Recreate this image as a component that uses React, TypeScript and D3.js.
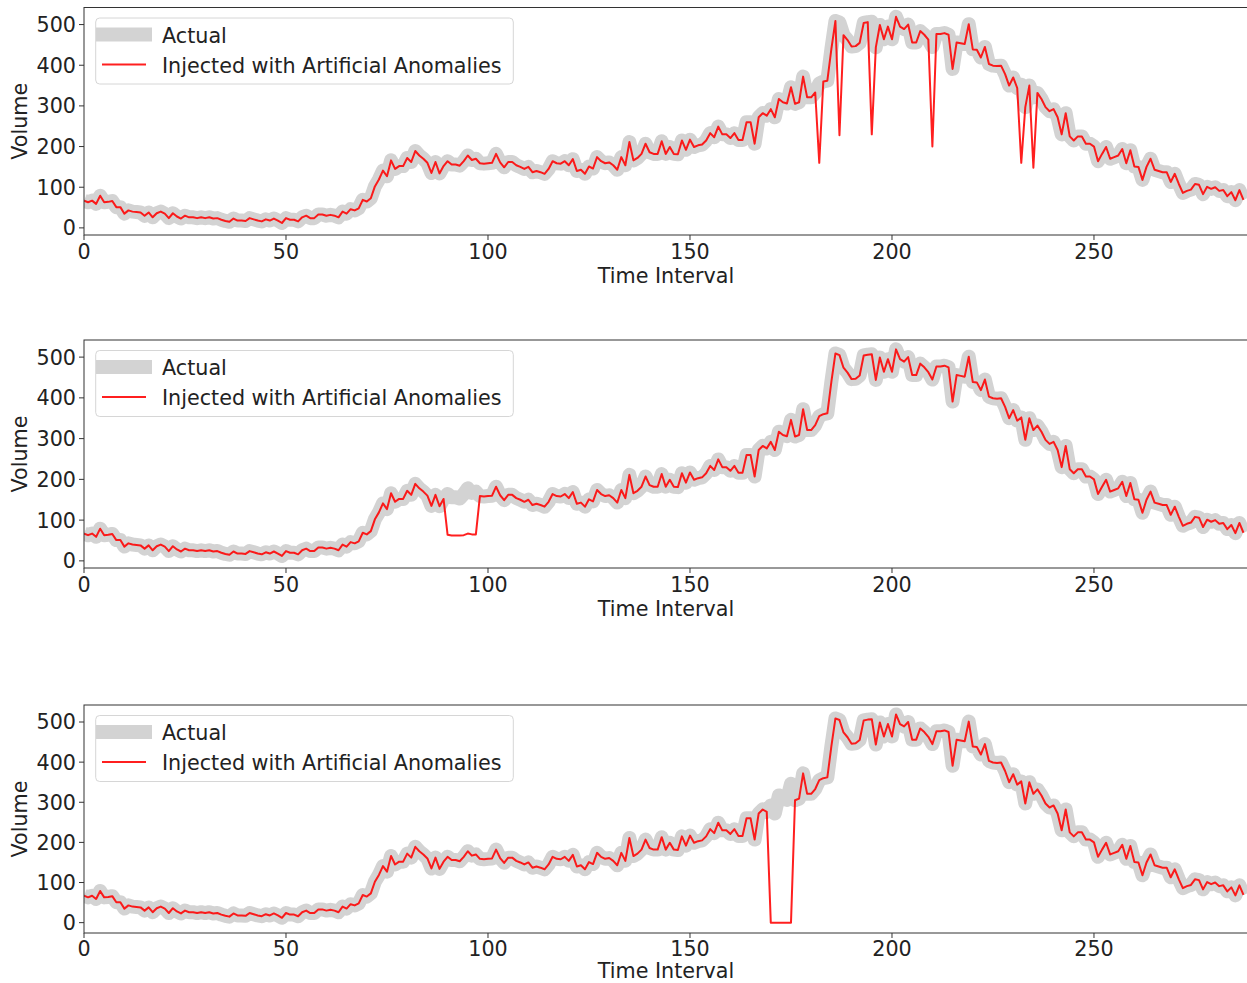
import React from "react";
import * as d3 from "d3";

// Actual traffic volume per 5-minute interval (288 intervals)
const actual: number[] = [
  67, 63, 67, 59, 79, 63, 64, 66, 51, 51, 35, 43, 40, 39, 38, 30, 38, 26, 36, 40,
  35, 24, 36, 28, 23, 30, 26, 26, 24, 26, 24, 26, 23, 24, 20, 17, 15, 23, 18, 18,
  17, 24, 21, 18, 16, 21, 18, 23, 18, 12, 24, 20, 20, 16, 26, 30, 24, 24, 33, 33,
  30, 32, 30, 26, 40, 35, 46, 43, 48, 69, 65, 73, 102, 119, 141, 127, 166, 145, 152, 152,
  172, 162, 189, 178, 170, 160, 135, 162, 134, 152, 164, 156, 156, 153, 164, 178, 167, 170, 159, 158,
  159, 160, 182, 161, 149, 162, 162, 154, 150, 145, 150, 137, 140, 137, 133, 145, 164, 159, 158, 164,
  154, 169, 140, 143, 133, 151, 146, 174, 164, 159, 161, 154, 143, 174, 154, 211, 166, 172, 182, 207,
  186, 182, 182, 213, 182, 199, 182, 181, 215, 192, 217, 199, 203, 205, 215, 233, 223, 249, 230, 230,
  221, 233, 216, 216, 260, 260, 207, 272, 282, 276, 292, 272, 317, 309, 306, 346, 305, 309, 372, 321,
  321, 333, 355, 360, 362, 440, 509, 505, 474, 462, 446, 447, 455, 504, 506, 507, 444, 499, 464, 495,
  464, 519, 495, 489, 500, 456, 456, 484, 475, 463, 445, 477, 477, 479, 475, 391, 456, 454, 452, 501,
  439, 438, 419, 445, 403, 399, 398, 399, 378, 350, 370, 344, 352, 297, 350, 321, 332, 317, 297, 287,
  292, 272, 230, 282, 225, 215, 225, 225, 207, 207, 200, 164, 182, 199, 170, 174, 178, 194, 159, 191,
  151, 150, 118, 150, 170, 143, 140, 137, 137, 113, 133, 108, 86, 91, 94, 108, 106, 83, 101, 96,
  100, 91, 93, 78, 88, 68, 93, 69,
];

// Injected anomalies: [interval, value]
const anomaliesSpikes: [number, number][] = [
  [182, 160], [187, 228], [195, 230], [210, 200], [232, 160], [235, 148],
];
const anomaliesDip: [number, number][] = [
  [90, 64], [91, 62], [92, 62], [93, 62], [94, 63], [95, 67], [96, 65], [97, 65],
];
const anomaliesZero: [number, number][] = [
  [170, 0], [171, 0], [172, 0], [173, 0], [174, 0], [175, 0],
];

const xTicks = [0, 50, 100, 150, 200, 250];
const yTicks = [0, 100, 200, 300, 400, 500];

const legendLabels = ["Actual", "Injected with Artificial Anomalies"];

const inject = (base: number[], anomalies: [number, number][]) => {
  const out = base.slice();
  anomalies.forEach(([i, v]) => (out[i] = v));
  return out;
};

const FONT = "'DejaVu Sans', sans-serif";
const FS = 20.7;

const x = d3.scaleLinear().domain([0, 288]).range([84, 1247.5]);

type PanelProps = {
  id: string;
  top: number;
  bottom: number;
  yDomain: [number, number];
  injected: number[];
  tickOffset: number;
  labelOffset: number;
};

function Panel({ id, top, bottom, yDomain, injected, tickOffset, labelOffset }: PanelProps) {
  const y = d3.scaleLinear().domain(yDomain).range([bottom, top]);
  const line = d3
    .line<number>()
    .x((_, i) => x(i))
    .y((d) => y(d));
  const x0 = x.range()[0];
  const x1 = x.range()[1];
  return (
    <g>
      <defs>
        <clipPath id={id}>
          <rect x={x0} y={top} width={x1 - x0} height={bottom - top} />
        </clipPath>
      </defs>
      <g clipPath={`url(#${id})`}>
        <path
          d={line(actual) || ""}
          fill="none"
          stroke="#d3d3d3"
          strokeWidth={14}
          strokeLinejoin="round"
        />
        <path
          d={line(injected) || ""}
          fill="none"
          stroke="red"
          strokeOpacity={0.88}
          strokeWidth={2}
          strokeLinejoin="round"
        />
      </g>
      {/* spines */}
      <rect
        x={x0}
        y={top}
        width={x1 - x0}
        height={bottom - top}
        fill="none"
        stroke="#333"
        strokeWidth={1}
      />
      {/* x ticks */}
      {xTicks.map((t) => (
        <g key={"x" + t}>
          <line x1={x(t)} x2={x(t)} y1={bottom} y2={bottom + 5} stroke="#333" strokeWidth={1} />
          <text
            x={x(t)}
            y={bottom + tickOffset}
            textAnchor="middle"
            fontFamily={FONT}
            fontSize={FS}
            fill="#222"
          >
            {t}
          </text>
        </g>
      ))}
      {/* y ticks */}
      {yTicks.map((t) => (
        <g key={"y" + t}>
          <line x1={x0 - 5} x2={x0} y1={y(t)} y2={y(t)} stroke="#333" strokeWidth={1} />
          <text
            x={x0 - 8}
            y={y(t)}
            dy="0.36em"
            textAnchor="end"
            fontFamily={FONT}
            fontSize={FS}
            fill="#222"
          >
            {t}
          </text>
        </g>
      ))}
      <text
        x={666}
        y={bottom + labelOffset}
        textAnchor="middle"
        fontFamily={FONT}
        fontSize={FS}
        fill="#222"
      >
        Time Interval
      </text>
      <text
        transform={`translate(27,${(top + bottom) / 2}) rotate(-90)`}
        textAnchor="middle"
        fontFamily={FONT}
        fontSize={FS}
        fill="#222"
      >
        Volume
      </text>
      {/* legend */}
      <rect
        x={95.7}
        y={top + 10.5}
        width={417.6}
        height={66}
        rx={4}
        fill="white"
        fillOpacity={0.8}
        stroke="#d6d6d6"
        strokeWidth={1}
      />
      <line x1={96} x2={152} y1={top + 27} y2={top + 27} stroke="#d3d3d3" strokeWidth={14} />
      <line
        x1={102}
        x2={146}
        y1={top + 57}
        y2={top + 57}
        stroke="red"
        strokeOpacity={0.88}
        strokeWidth={2}
      />
      <text x={162} y={top + 35} fontFamily={FONT} fontSize={FS} fill="#222">
        {legendLabels[0]}
      </text>
      <text x={162} y={top + 65} fontFamily={FONT} fontSize={FS} fill="#222">
        {legendLabels[1]}
      </text>
    </g>
  );
}

export default function App() {
  return (
    <svg
      width={1247}
      height={983}
      style={{ position: "absolute", left: 0, top: 0, background: "white" }}
    >
      <Panel id="c1" top={7.5} bottom={235} yDomain={[-17.5, 542]} injected={inject(actual, anomaliesSpikes)} tickOffset={23.5} labelOffset={47.5} />
      <Panel id="c2" top={340} bottom={568} yDomain={[-17.5, 542]} injected={inject(actual, anomaliesDip)} tickOffset={23.5} labelOffset={47.5} />
      <Panel id="c3" top={705} bottom={933} yDomain={[-25.8, 542.4]} injected={inject(actual, anomaliesZero)} tickOffset={22.5} labelOffset={44.8} />
    </svg>
  );
}
